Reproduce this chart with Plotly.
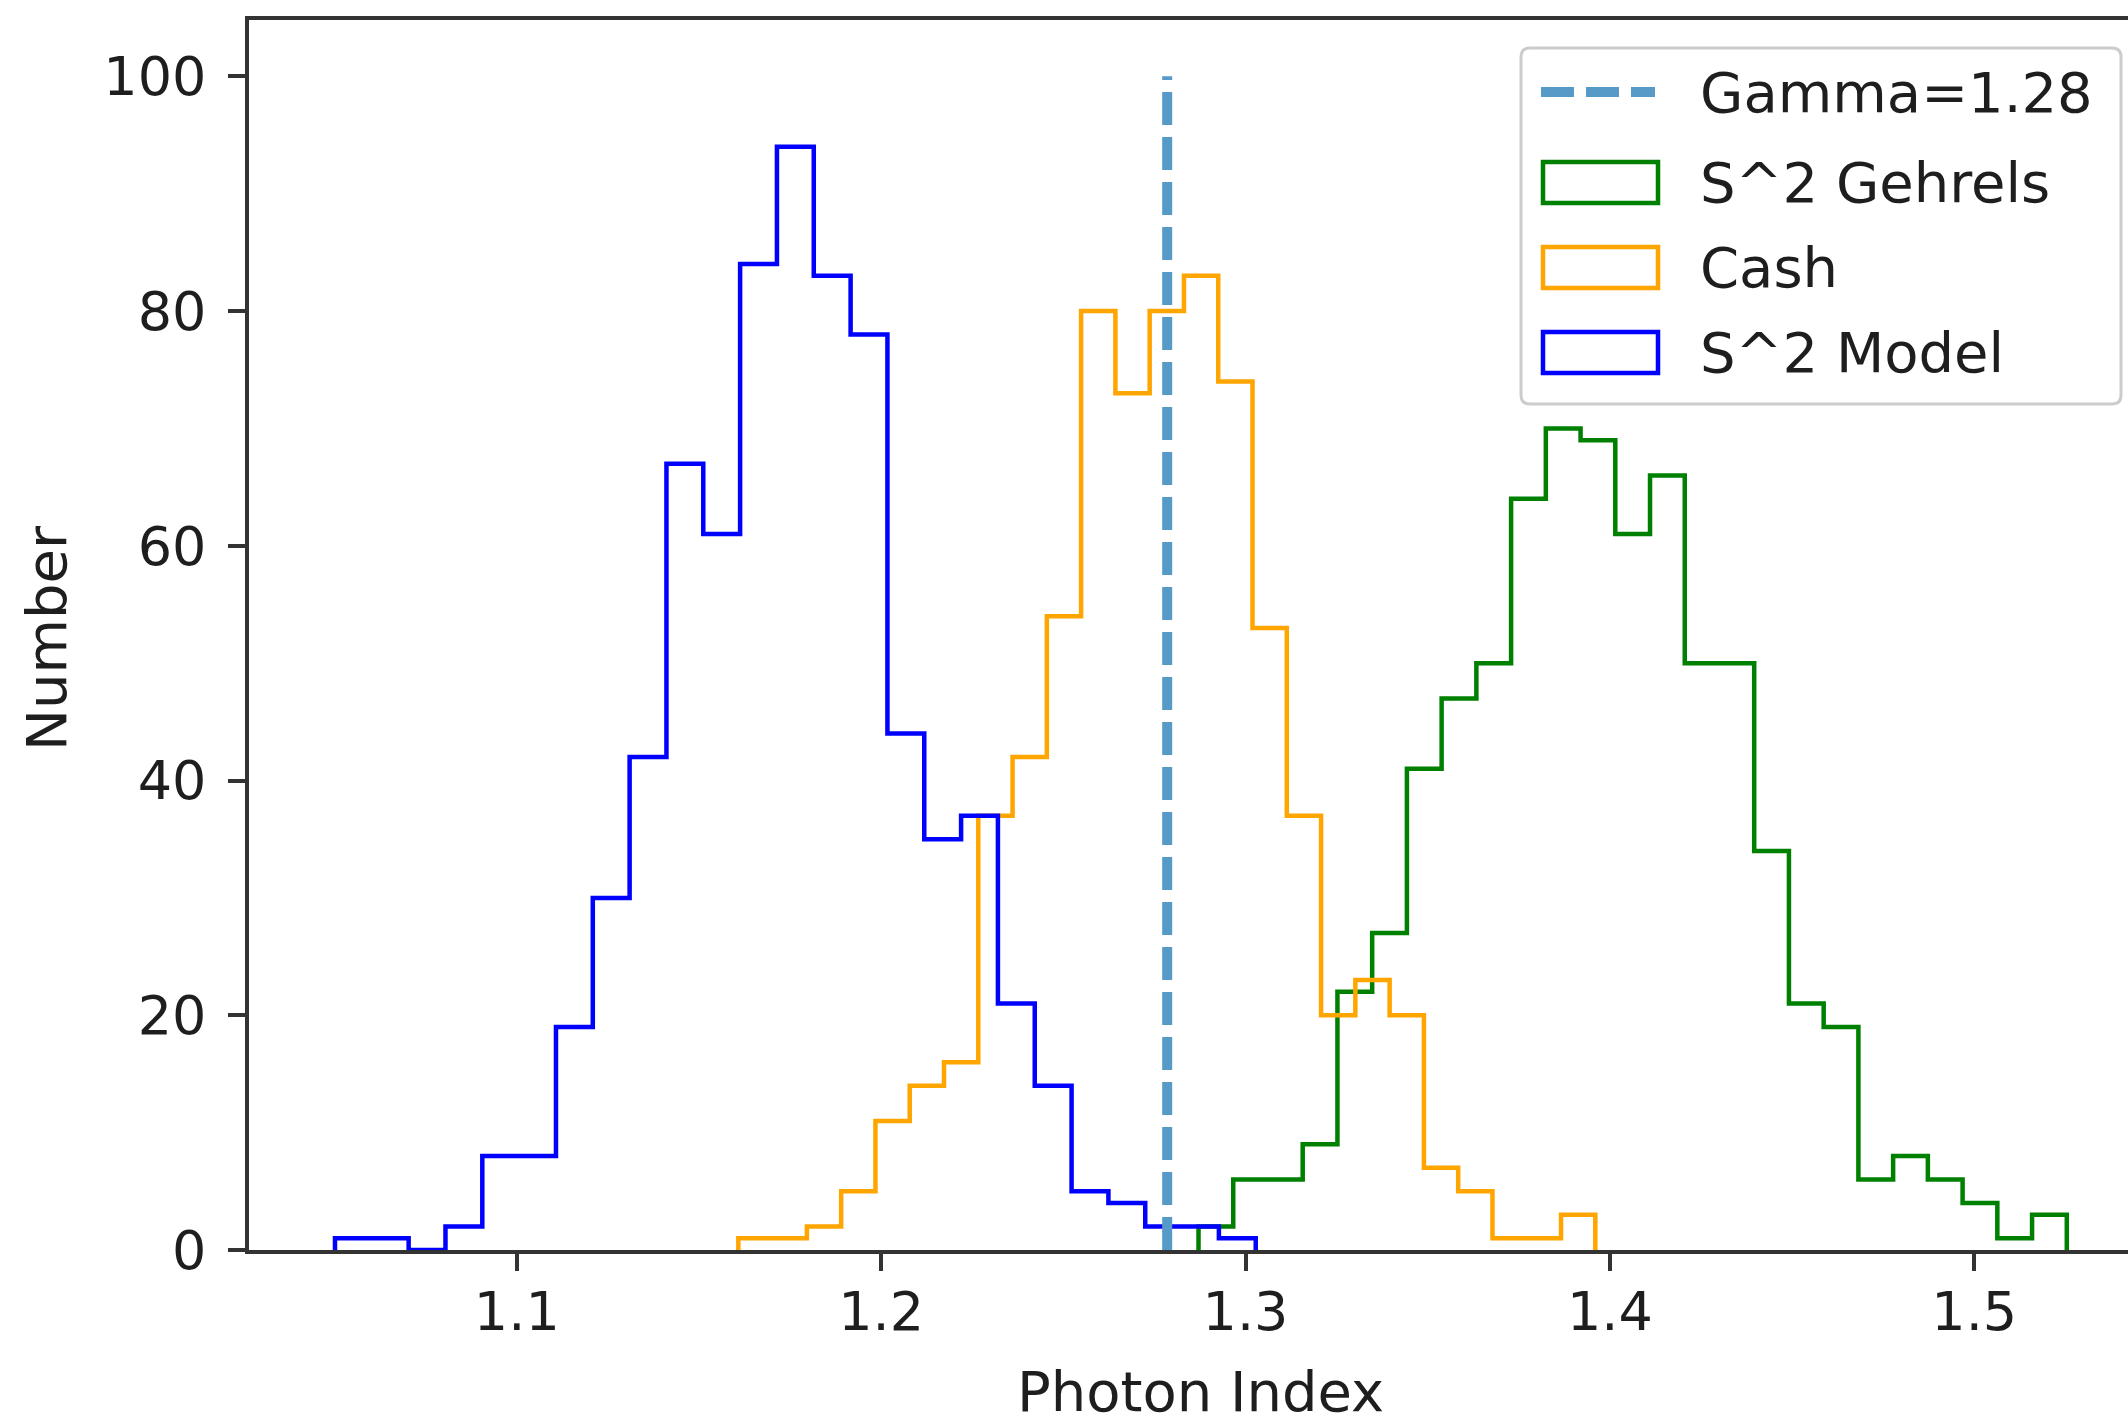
import numpy as np
import plotly.graph_objects as go

# ---------------- data ----------------
gamma_value = 1.2785
gamma_ymax = 100

gehrels_range = (1.2871, 1.5254)
gehrels_counts = [2, 6, 6, 9, 22, 27, 41, 47, 50, 64, 70, 69, 61, 66, 50,
                  50, 34, 21, 19, 6, 8, 6, 4, 1, 3]

cash_range = (1.1608, 1.3960)
cash_counts = [1, 1, 2, 5, 11, 14, 16, 37, 42, 54, 80, 73, 80, 83, 74,
               53, 37, 20, 23, 20, 7, 5, 1, 1, 3]

model_range = (1.0501, 1.3028)
model_counts = [1, 1, 0, 2, 8, 8, 19, 30, 42, 67, 61, 84, 94, 83, 78,
                44, 35, 37, 21, 14, 5, 4, 2, 2, 1]

x_ticks = [1.1, 1.2, 1.3, 1.4, 1.5]
x_tick_labels = ["1.1", "1.2", "1.3", "1.4", "1.5"]
y_ticks = [0, 20, 40, 60, 80, 100]
y_tick_labels = ["0", "20", "40", "60", "80", "100"]

series_names = ["Gamma=1.28", "S^2 Gehrels", "Cash", "S^2 Model"]
series_colors = ["#5799c7", "green", "orange", "blue"]

# ---------------- layout geometry (pixels) ----------------
W, H = 2128, 1416
PL, PR, PT, PB = 249, 2128, 20, 1250
FONT = "DejaVu Sans"
FS = 56
TFS = 54
TXT = "#1e1e1e"
AX = "#333333"


def pxx(x):
    return (x - PL) / (PR - PL)


def pxy(y):
    return (PB - y) / (PB - PT)


def step_xy(rng, counts):
    edges = np.linspace(rng[0], rng[1], len(counts) + 1)
    xs = np.repeat(edges, 2)
    ys = np.concatenate([[0], np.repeat(counts, 2), [0]])
    return xs, ys


fig = go.Figure()

for name, rng, counts, col in [
    (series_names[1], gehrels_range, gehrels_counts, series_colors[1]),
    (series_names[2], cash_range, cash_counts, series_colors[2]),
    (series_names[3], model_range, model_counts, series_colors[3]),
]:
    xs, ys = step_xy(rng, counts)
    fig.add_trace(go.Scatter(x=xs, y=ys, mode="lines", name=name,
                             line=dict(color=col, width=4.5),
                             showlegend=False, hoverinfo="skip"))

fig.add_trace(go.Scatter(x=[gamma_value, gamma_value], y=[0, gamma_ymax],
                         mode="lines", name=series_names[0],
                         line=dict(color=series_colors[0], width=10,
                                   dash="33px,12px"),
                         showlegend=False, hoverinfo="skip"))

shapes = []
annotations = []

# legend frame (rounded)
x0, x1, y0, y1, r = 1521, 2121, 48, 404, 9
def P(x, y):
    return f"{pxx(x):.6f},{pxy(y):.6f}"
path = (f"M{P(x0 + r, y0)} L{P(x1 - r, y0)} Q{P(x1, y0)} {P(x1, y0 + r)} "
        f"L{P(x1, y1 - r)} Q{P(x1, y1)} {P(x1 - r, y1)} "
        f"L{P(x0 + r, y1)} Q{P(x0, y1)} {P(x0, y1 - r)} "
        f"L{P(x0, y0 + r)} Q{P(x0, y0)} {P(x0 + r, y0)} Z")
shapes.append(dict(type="path", xref="paper", yref="paper", path=path,
                   fillcolor="rgba(255,255,255,0.8)",
                   line=dict(color="#cccccc", width=3), layer="above"))

row_y = [92, 182.5, 267.5, 352.5]
hx0, hx1 = 1541, 1658
shapes.append(dict(type="line", xref="paper", yref="paper",
                   x0=pxx(hx0), x1=pxx(hx1 - 3), y0=pxy(row_y[0]), y1=pxy(row_y[0]),
                   line=dict(color=series_colors[0], width=10, dash="33px,12px"),
                   layer="above"))
for i in range(1, 4):
    shapes.append(dict(type="rect", xref="paper", yref="paper",
                       x0=pxx(hx0 + 2), x1=pxx(hx1), y0=pxy(row_y[i] + 20.5),
                       y1=pxy(row_y[i] - 20.5), fillcolor="rgba(0,0,0,0)",
                       line=dict(color=series_colors[i], width=4.5),
                       layer="above"))
for i, nm in enumerate(series_names):
    annotations.append(dict(xref="paper", yref="paper", x=pxx(1699), y=pxy(row_y[i]),
                            xanchor="left", yanchor="middle", text=nm,
                            showarrow=False, borderpad=0,
                            font=dict(family=FONT, size=FS, color=TXT)))

# axis titles
annotations.append(dict(xref="paper", yref="paper", x=pxx(1200), y=pxy(1391),
                        xanchor="center", yanchor="middle", text="Photon Index",
                        showarrow=False, borderpad=0,
                        font=dict(family=FONT, size=FS, color=TXT)))
annotations.append(dict(xref="paper", yref="paper", x=pxx(46), y=pxy(638),
                        xanchor="center", yanchor="middle", text="Number",
                        textangle=-90, showarrow=False, borderpad=0,
                        font=dict(family=FONT, size=FS, color=TXT)))

fig.update_layout(
    width=W, height=H,
    margin=dict(l=PL, r=W - PR, t=PT, b=H - PB, pad=0),
    paper_bgcolor="white", plot_bgcolor="white",
    showlegend=False,
    shapes=shapes, annotations=annotations,
    font=dict(family=FONT, size=FS, color=TXT),
)
fig.update_xaxes(range=[1.0265, 1.5422], tickvals=x_ticks, ticktext=x_tick_labels,
                 showgrid=False, zeroline=False, showline=True, linecolor=AX,
                 linewidth=3.5, mirror=True, ticks="outside", ticklen=17,
                 tickwidth=3.5, tickcolor=AX, ticklabelstandoff=-6,
                 tickfont=dict(family=FONT, size=TFS, color=TXT))
fig.update_yaxes(range=[0, 104.8], tickvals=y_ticks, ticktext=y_tick_labels,
                 showgrid=False, zeroline=False, showline=True, linecolor=AX,
                 linewidth=3.5, mirror=False, ticks="outside", ticklen=17,
                 tickwidth=3.5, tickcolor=AX, ticklabelstandoff=11,
                 tickfont=dict(family=FONT, size=TFS, color=TXT))

fig.write_html("out.html")
